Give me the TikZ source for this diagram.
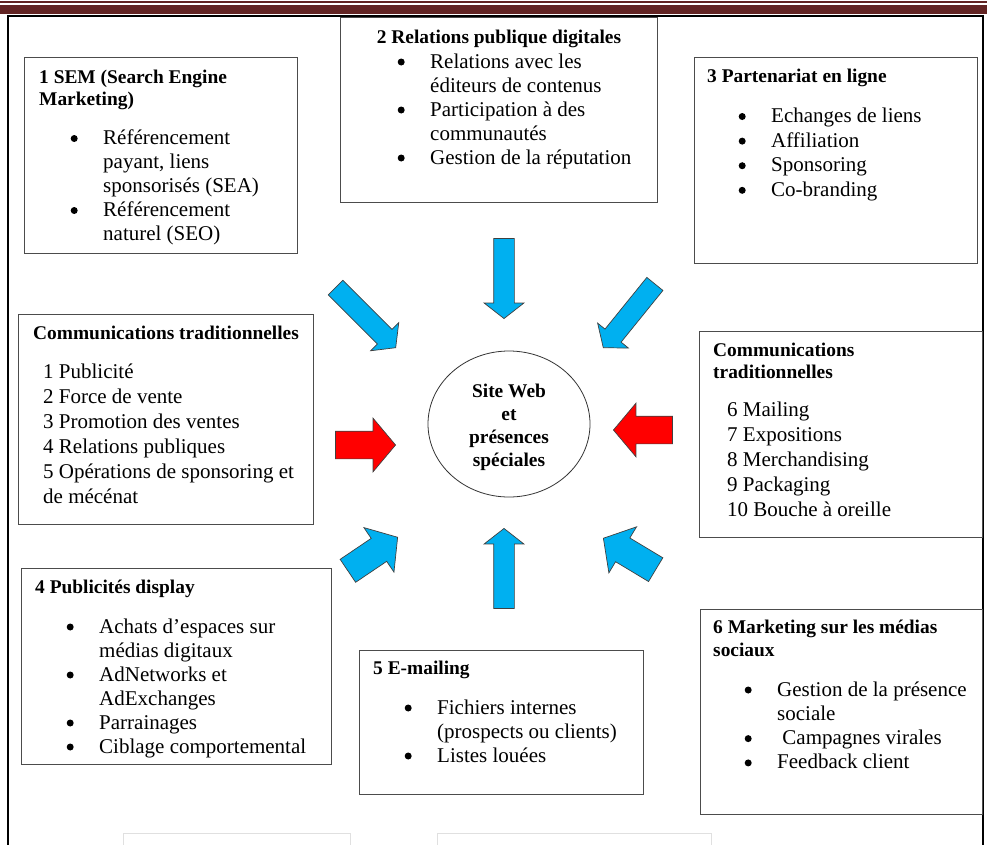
\documentclass[tikz,border=0pt]{standalone}
\usepackage{fontspec}
\setmainfont{Liberation Serif}
\usetikzlibrary{shapes.geometric,shapes.arrows,positioning}

\definecolor{bordeaux}{HTML}{622423}
\definecolor{bleu}{HTML}{00B0F0}
\definecolor{rouge}{HTML}{FF0000}
\newcommand{\corps}{\fontsize{21}{24}\selectfont}
\newcommand{\corpsb}{\fontsize{21}{25}\selectfont}
\newcommand{\titre}[1]{{\fontsize{19.4}{23}\selectfont\bfseries #1}}
\newcommand{\puce}{\makebox[64pt][l]{\hspace{31.5pt}\tikz[baseline=-6pt]\fill (0,0) circle (3.5pt);}}
\newcommand{\suite}{\hspace*{64pt}}

\begin{document}
\begin{tikzpicture}[x=1pt, y=-1pt,
    cadre/.style={draw=black!70, line width=1pt, rectangle, inner sep=0pt, anchor=north west},
    texte/.style={anchor=north west, inner sep=0pt, align=left, font=\corps},
    fleche/.style={single arrow, draw=black!75, line width=0.7pt, inner xsep=0pt, anchor=tip},
    fine/.style={fleche, fill=bleu, inner ysep=10pt, single arrow head extend=9.5pt, single arrow tip angle=104},
    large/.style={fleche, inner ysep=13.5pt, single arrow head extend=13pt, single arrow tip angle=100}]
    \useasboundingbox (0,0) rectangle (987,844);
    \clip (0,0) rectangle (987,844);
    \fill[bordeaux] (0,1) rectangle (987,3);
    \fill[bordeaux] (0,5) rectangle (987,14);
    \draw[line width=2pt] (7.5,850) -- (7.5,16) -- (983,16) -- (983,850);
    \draw[black!12, line width=1pt] (123,850) -- (123,833) -- (350,833) -- (350,850);
    \draw[black!12, line width=1pt] (437,850) -- (437,833) -- (711,833) -- (711,850);

    \node[cadre, minimum width=273pt, minimum height=196pt] (sem) at (24,57) {};
    \node[cadre, minimum width=317pt, minimum height=185pt] (rel) at (340,17) {};
    \node[cadre, minimum width=283pt, minimum height=206pt] (part) at (694,57) {};
    \node[cadre, minimum width=295pt, minimum height=210pt] (tradg) at (18,314) {};
    \node[cadre, minimum width=283pt, minimum height=206pt] (tradd) at (699,331) {};
    \node[cadre, minimum width=310pt, minimum height=196pt] (display) at (21,568) {};
    \node[cadre, minimum width=284pt, minimum height=144pt] (emailing) at (359,650) {};
    \node[cadre, minimum width=282pt, minimum height=205pt] (sociaux) at (700,609) {};

    \node[texte] (sem-t) at ([shift={(15,9)}]sem.north west) {\strut\titre{1 SEM (Search Engine}\\[-1.5pt]
        \titre{Marketing)}\\[15pt]
        \puce Référencement\\ \suite payant, liens\\ \suite sponsorisés (SEA)\\
        \puce Référencement\\ \suite naturel (SEO)};
    \node[anchor=base, inner sep=0pt] (rel-t) at ([yshift=-26pt]rel.north) {\titre{2 Relations publique digitales}};
    \node[texte] (rel-l) at ([shift={(26,34)}]rel.north west) {\strut\puce Relations avec les\\ \suite éditeurs de contenus\\
        \puce Participation à des\\ \suite communautés\\ \puce Gestion de la réputation};
    \node[texte, font=\fontsize{21}{24.6}\selectfont] (part-t) at ([shift={(13,8)}]part.north west) {\strut\titre{3 Partenariat en ligne}\\[15.5pt]
        \puce Echanges de liens\\ \puce Affiliation\\ \puce Sponsoring\\ \puce Co-branding};
    \node[texte, font=\corpsb] (tradg-t) at ([shift={(15,7.5)}]tradg.north west) {\strut\titre{Communications traditionnelles}\\[14pt]
        \hspace*{10pt}1 Publicité\\ \hspace*{10pt}2 Force de vente\\ \hspace*{10pt}3 Promotion des ventes\\
        \hspace*{10pt}4 Relations publiques\\ \hspace*{10pt}5 Opérations de sponsoring et\\ \hspace*{10pt}de mécénat};
    \node[texte, font=\corpsb] (tradd-t) at ([shift={(14,7.5)}]tradd.north west) {\strut\titre{Communications}\\[-3pt]
        \titre{traditionnelles}\\[13pt]
        \hspace*{14pt}6 Mailing\\ \hspace*{14pt}7 Expositions\\ \hspace*{14pt}8 Merchandising\\
        \hspace*{14pt}9 Packaging\\ \hspace*{14pt}10 Bouche à oreille};
    \node[texte] (display-t) at ([shift={(14,8)}]display.north west) {\strut\titre{4 Publicités display}\\[16pt]
        \puce Achats d’espaces sur\\ \suite médias digitaux\\ \puce AdNetworks et\\ \suite AdExchanges\\
        \puce Parrainages\\ \puce Ciblage comportemental};
    \node[texte] (emailing-t) at ([shift={(14,7)}]emailing.north west) {\strut\titre{5 E-mailing}\\[16pt]
        \puce Fichiers internes\\ \suite (prospects ou clients)\\ \puce Listes louées};
    \node[texte, font=\fontsize{21}{24.3}\selectfont] (sociaux-t) at ([shift={(13,7.5)}]sociaux.north west) {\strut\titre{6 Marketing sur les médias}\\[-1.8pt]
        \titre{sociaux}\\[15.5pt]
        \puce Gestion de la présence\\ \suite sociale\\ \puce\ Campagnes virales\\ \puce Feedback client};

    \node[ellipse, draw=black!80, line width=0.8pt, minimum width=162pt, minimum height=146pt, inner sep=0pt,
        align=center, font=\fontsize{19.4}{23}\selectfont\bfseries] (site) at (509,424)
        {\raisebox{0pt}[21pt]{Site Web}\\et\\présences\\spéciales};

    \node[fine, minimum height=80pt, rotate=-90] (f-haut) at (504,319) {};
    \node[fine, minimum height=80pt, rotate=90] (f-bas) at (504,528) {};
    \node[fine, minimum height=85pt, rotate=-45] (f-hg) at (396,348) {};
    \node[fine, minimum height=82pt, rotate=-129] (f-hd) at (603,348) {};
    \node[large, fill=rouge, minimum height=60pt] (f-g) at (396,445) {};
    \node[large, fill=rouge, minimum height=59pt, rotate=180] (f-d) at (613,430) {};
    \node[large, fill=bleu, minimum height=60pt, rotate=34] (f-bg) at (398,537) {};
    \node[large, fill=bleu, minimum height=61pt, rotate=149] (f-bd) at (603,538) {};
\end{tikzpicture}
\end{document}
